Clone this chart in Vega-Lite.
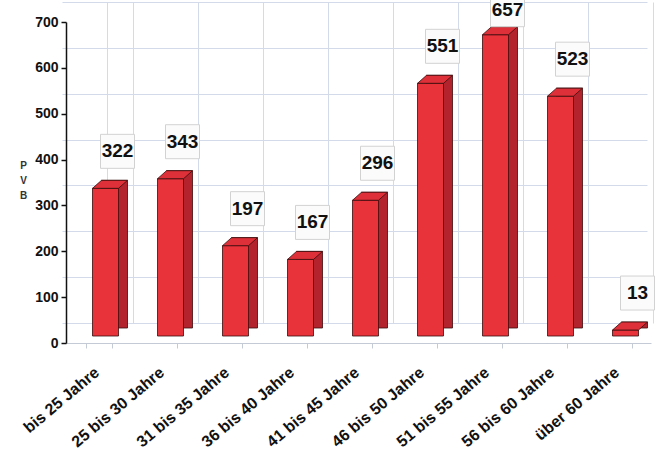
{
  "$schema": "https://vega.github.io/schema/vega-lite/v6.json",
  "width": 602,
  "height": 321,
  "autosize": "none",
  "padding": {"left": 66, "top": 22, "right": 0, "bottom": 114},
  "background": "white",
  "config": {"view": {"stroke": null}, "font": "Liberation Sans, Arial"},
  "data": {"values": [
    {"g": "bis 25 Jahre", "n": 322},
    {"g": "25 bis 30 Jahre", "n": 343},
    {"g": "31 bis 35 Jahre", "n": 197},
    {"g": "36 bis 40 Jahre", "n": 167},
    {"g": "41 bis 45 Jahre", "n": 296},
    {"g": "46 bis 50 Jahre", "n": 551},
    {"g": "51 bis 55 Jahre", "n": 657},
    {"g": "56 bis 60 Jahre", "n": 523},
    {"g": "über 60 Jahre", "n": 13}
  ]},
  "resolve": {"scale": {"x": "independent", "y": "independent"}, "axis": {"x": "independent", "y": "independent"}},
  "layer": [
    {
      "mark": {"type": "bar", "opacity": 0},
      "encoding": {
        "x": {"field": "g", "type": "nominal", "sort": null,
          "scale": {"range": [21, 606], "paddingInner": 0.6, "paddingOuter": 0.3},
          "axis": {"orient": "top", "grid": true, "tickBand": "extent", "labels": false, "ticks": false, "domain": false, "title": null, "gridColor": "#d3daea", "gridWidth": 1}},
        "y": {"field": "n", "type": "quantitative",
          "scale": {"domain": [0, 700], "range": [301, -20]},
          "axis": {"orient": "right", "grid": true, "values": [0, 100, 200, 300, 400, 500, 600, 700], "labels": false, "ticks": false, "domain": false, "title": null, "gridColor": "#d3daea", "gridWidth": 1}}
      }
    },
    {
      "encoding": {
        "x": {"field": "g", "type": "nominal", "sort": null,
          "scale": {"range": [0, 585], "paddingInner": 0.6, "paddingOuter": 0.3},
          "axis": {"orient": "bottom", "grid": false, "tickBand": "extent", "title": null,
            "domainColor": "#c4cad6", "tickColor": "#c4cad6", "tickSize": 5,
            "labelAngle": -40, "labelAlign": "right", "labelBaseline": "middle",
            "labelFont": "Liberation Sans, Arial", "labelFontSize": 16, "labelFontWeight": "bold", "labelColor": "#111", "labelPadding": 22, "labelOffset": -2}},
        "y": {"field": "n", "type": "quantitative",
          "scale": {"domain": [0, 700]},
          "axis": {"orient": "left", "grid": false, "values": [0, 100, 200, 300, 400, 500, 600, 700],
            "domainColor": "#111", "domainWidth": 1.5, "tickColor": "#111", "tickWidth": 1.5, "tickSize": 5,
            "labelFont": "Liberation Sans, Arial", "labelFontSize": 14, "labelFontWeight": "bold", "labelColor": "#111", "labelPadding": 3,
            "title": ["P", "V", "B"], "titleAngle": 0, "titleFontSize": 10, "titleFontWeight": "bold", "titleColor": "#333",
            "titleAlign": "center", "titleBaseline": "top", "titleX": -43, "titleY": 138, "titleLineHeight": 15}}
      },
      "layer": [
        {"mark": {"type": "bar", "xOffset": 16, "yOffset": -15, "color": "#b3232d", "stroke": "#3a0c0c", "strokeWidth": 0.8}},
        {"mark": {"type": "bar", "xOffset": 7, "yOffset": -7, "color": "#e8333b", "stroke": "#3a0c0c", "strokeWidth": 0.8}},
        {"mark": {"type": "point", "shape": "M-13,0L13,0L22,-8L-4,-8Z", "size": 4, "filled": true, "opacity": 1, "color": "#de3038", "stroke": "#3a0c0c", "strokeWidth": 0.8, "xOffset": 7, "yOffset": -7}},
        {"mark": {"type": "point", "shape": "M-17,-17L17,-17L17,17L-17,17Z", "size": 4, "filled": true, "opacity": 1, "color": "#fbfbfb", "stroke": "#d2d2d2", "strokeWidth": 1, "xOffset": 19, "yOffset": {"expr": "datum.n > 600 ? -32 : -44"}}},
        {"mark": {"type": "text", "dx": 19, "dy": {"expr": "datum.n > 600 ? -32 : -44"}, "align": "center", "baseline": "middle", "font": "Liberation Sans, Arial", "fontSize": 19, "fontWeight": "bold", "color": "#111"},
         "encoding": {"text": {"field": "n", "type": "quantitative"}}}
      ]
    }
  ]
}
